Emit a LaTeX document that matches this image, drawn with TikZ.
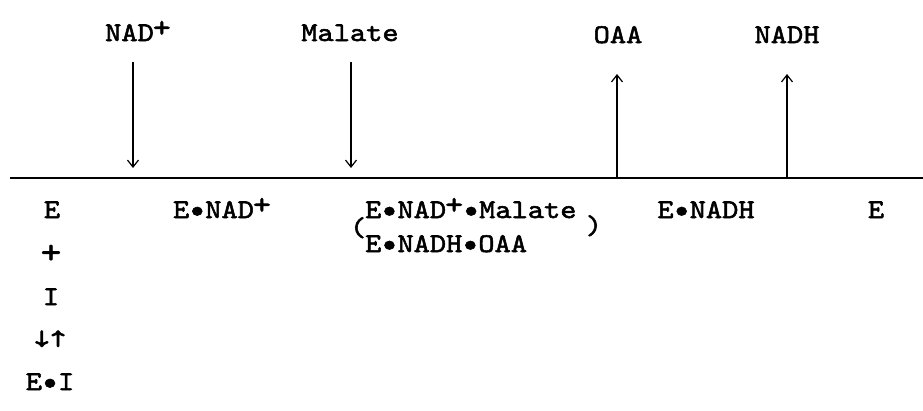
\documentclass[tikz,border=0pt]{standalone}
\usepackage{fontspec}
\setmonofont{lmmono10-regular.otf}[FakeStretch=1.145, FakeBold=2]
\usetikzlibrary{arrows.meta}

% raised plus sign for the NAD+ charge
\newcommand{\chargeplus}{\kern-1pt\raisebox{4pt}{\fontsize{30}{30}\selectfont +}}
% heavy centred dot joining the complex partners
\newcommand{\cdotb}{\makebox[16pt]{\fontsize{31}{31}\selectfont\raisebox{-0.5pt}{•}}}

\tikzset{
  lbl/.style={font=\ttfamily\fontsize{27}{31}\selectfont, inner sep=0pt, anchor=base},
  flow/.style={line width=1.3pt,
    -{Straight Barb[length=7pt,width=11pt,line width=1.2pt]}},
  baseline axis/.style={line width=1.7pt}
}

\begin{document}
\begin{tikzpicture}[x=1pt,y=-1pt]
  \useasboundingbox (0,0) rectangle (923,410);

  % reaction time line
  \coordinate (axL) at (10,178);
  \coordinate (axR) at (923,178);
  \draw[baseline axis] (axL) -- (axR);

  % substrates entering, products leaving
  \node[lbl] (nad)    at (138,41) {NAD\chargeplus};
  \node[lbl] (malate) at (350,41) {Malate};
  \node[lbl] (oaa)    at (618,43) {OAA};
  \node[lbl] (nadh)   at (787,43) {NADH};

  \coordinate (nadA) at (133,62);  \coordinate (nadB) at (133,168);
  \coordinate (malA) at (351,62);  \coordinate (malB) at (351,168);
  \coordinate (oaaA) at (617,178); \coordinate (oaaB) at (617,74);
  \coordinate (nhA)  at (787,178); \coordinate (nhB)  at (787,74);
  \draw[flow] (nadA) -- (nadB);
  \draw[flow] (malA) -- (malB);
  \draw[flow] (oaaA) -- (oaaB);
  \draw[flow] (nhA)  -- (nhB);

  % enzyme forms along the line
  \node[lbl] (e1)    at (52,218)  {E};
  \node[lbl] (enad)  at (222,218) {E\cdotb NAD\chargeplus};
  \node[lbl, anchor=base west] (cpx1) at (365,218) {E\cdotb NAD\chargeplus\cdotb Malate};
  \node[lbl, anchor=base west] (cpx2) at (365,252) {E\cdotb NADH\cdotb OAA};
  \node[lbl] (lp)    at (358,236) {(};
  \node[lbl] (rp)    at (594,234) {)};
  \node[lbl] (enadh) at (706,218) {E\cdotb NADH};
  \node[lbl] (e2)    at (876,218) {E};

  % dead-end inhibitor branch
  \node[lbl] (plus)  at (51,263) {\fontsize{34}{34}\selectfont +};
  \node[lbl] (inh)   at (51,305) {I};
  \node[lbl] (eq)    at (50,347) {↓↑};
  \node[lbl] (ei)    at (50,390) {E\cdotb I};
\end{tikzpicture}
\end{document}
